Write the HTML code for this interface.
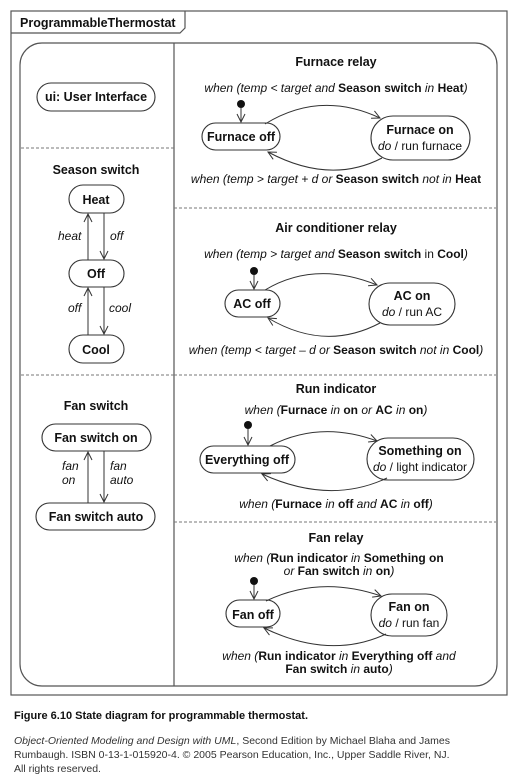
<!DOCTYPE html>
<html><head><meta charset="utf-8"><style>
html,body{margin:0;padding:0;background:#fff;}
svg{display:block;}
text{font-family:"Liberation Sans",Arial,sans-serif;fill:#111;}
.b{font-weight:bold;font-size:12.5px;}
.t{font-size:12px;}
.i{font-style:italic;}
.bo{font-weight:bold;}
</style></head><body>
<svg width="518" height="780" viewBox="0 0 518 780" xmlns="http://www.w3.org/2000/svg">
<defs>
<marker id="a" markerWidth="10" markerHeight="10" refX="9" refY="5" orient="auto" markerUnits="userSpaceOnUse">
<path d="M1,1 L9,5 L1,9" fill="none" stroke="#333" stroke-width="1"/>
</marker>
</defs>
<g fill="none" stroke="#555" stroke-width="1.2">
<rect x="11" y="11" width="496" height="684"/>
<path d="M11,33 H180 L185,28 V11"/>
<rect x="20" y="43" width="477" height="643" rx="22" ry="22"/>
<line x1="174" y1="43" x2="174" y2="686"/>
</g>
<g stroke="#777" stroke-width="1" stroke-dasharray="3,2">
<line x1="21" y1="148" x2="174" y2="148"/>
<line x1="21" y1="375" x2="174" y2="375"/>
<line x1="174" y1="208" x2="496" y2="208"/>
<line x1="174" y1="375" x2="496" y2="375"/>
<line x1="174" y1="522" x2="496" y2="522"/>
</g>
<text x="20" y="27" class="b">ProgrammableThermostat</text>

<g fill="#fff" stroke="#333" stroke-width="1.1">
<rect x="37" y="83" width="118" height="28" rx="14"/>
<rect x="69" y="185" width="55" height="28" rx="14"/>
<rect x="69" y="260" width="55" height="27" rx="13.5"/>
<rect x="69" y="335" width="55" height="28" rx="14"/>
<rect x="42" y="424" width="109" height="27" rx="13.5"/>
<rect x="36" y="503" width="119" height="27" rx="13.5"/>
</g>
<g text-anchor="middle">
<text x="96" y="101" class="b">ui: User Interface</text>
<text x="96" y="174" class="b">Season switch</text>
<text x="96" y="204" class="b">Heat</text>
<text x="96" y="278" class="b">Off</text>
<text x="96" y="354" class="b">Cool</text>
<text x="96" y="410" class="b">Fan switch</text>
<text x="96" y="442" class="b">Fan switch on</text>
<text x="96" y="521" class="b">Fan switch auto</text>
</g>
<g stroke="#333" stroke-width="1" marker-end="url(#a)">
<line x1="88" y1="260" x2="88" y2="214"/>
<line x1="104" y1="213" x2="104" y2="259"/>
<line x1="88" y1="335" x2="88" y2="288"/>
<line x1="104" y1="287" x2="104" y2="334"/>
<line x1="88" y1="503" x2="88" y2="452"/>
<line x1="104" y1="451" x2="104" y2="502"/>
</g>
<g class="t i">
<text x="58" y="240">heat</text>
<text x="110" y="240">off</text>
<text x="68" y="312">off</text>
<text x="109" y="312">cool</text>
<text x="62" y="470">fan</text>
<text x="62" y="484">on</text>
<text x="110" y="470">fan</text>
<text x="110" y="484">auto</text>
</g>

<g fill="#fff" stroke="#333" stroke-width="1.1">
<rect x="202" y="123" width="78" height="27" rx="13.5"/>
<rect x="371" y="116" width="99" height="44" rx="22"/>
<rect x="225" y="290" width="55" height="27" rx="13.5"/>
<rect x="369" y="283" width="86" height="42" rx="21"/>
<rect x="200" y="446" width="95" height="27" rx="13.5"/>
<rect x="367" y="438" width="107" height="42" rx="21"/>
<rect x="226" y="600" width="54" height="27" rx="13.5"/>
<rect x="371" y="594" width="76" height="42" rx="21"/>
</g>
<g fill="#111">
<circle cx="241" cy="104" r="4"/>
<circle cx="254" cy="271" r="4"/>
<circle cx="248" cy="425" r="4"/>
<circle cx="254" cy="581" r="4"/>
</g>
<g fill="none" stroke="#333" stroke-width="1" marker-end="url(#a)">
<line x1="241" y1="108" x2="241" y2="122"/>
<line x1="254" y1="275" x2="254" y2="289"/>
<line x1="248" y1="429" x2="248" y2="445"/>
<line x1="254" y1="585" x2="254" y2="599"/>
<path d="M265,124 Q320,90 380,118"/>
<path d="M382,158 Q330,185 268,152"/>
<path d="M265,290 Q315,260 377,285"/>
<path d="M380,323 Q325,352 268,318"/>
<path d="M270,446 Q320,420 377,441"/>
<path d="M387,478 Q330,505 262,474"/>
<path d="M266,601 Q320,575 381,596"/>
<path d="M386,634 Q330,660 264,628"/>
</g>
<g text-anchor="middle">
<text x="336" y="66" class="b">Furnace relay</text>
<text x="241" y="141" class="b">Furnace off</text>
<text x="420" y="134" class="b">Furnace on</text>
<text x="420" y="150" class="t"><tspan class="i">do</tspan> / run furnace</text>
<text x="336" y="92" class="t"><tspan class="i">when (temp &lt; target and </tspan><tspan class="bo">Season switch</tspan><tspan class="i"> in </tspan><tspan class="bo">Heat</tspan><tspan class="i">)</tspan></text>
<text x="336" y="183" class="t"><tspan class="i">when (temp &gt; target + d or </tspan><tspan class="bo">Season switch</tspan><tspan class="i"> not in </tspan><tspan class="bo">Heat</tspan></text>

<text x="336" y="232" class="b">Air conditioner relay</text>
<text x="252" y="308" class="b">AC off</text>
<text x="412" y="300" class="b">AC on</text>
<text x="412" y="316" class="t"><tspan class="i">do</tspan> / run AC</text>
<text x="336" y="258" class="t"><tspan class="i">when (temp &gt; target and </tspan><tspan class="bo">Season switch</tspan> in <tspan class="bo">Cool</tspan><tspan class="i">)</tspan></text>
<text x="336" y="354" class="t"><tspan class="i">when (temp &lt; target – d or </tspan><tspan class="bo">Season switch</tspan><tspan class="i"> not in </tspan><tspan class="bo">Cool</tspan><tspan class="i">)</tspan></text>

<text x="336" y="393" class="b">Run indicator</text>
<text x="247" y="464" class="b">Everything off</text>
<text x="420" y="455" class="b">Something on</text>
<text x="420" y="471" class="t"><tspan class="i">do</tspan> / light indicator</text>
<text x="336" y="414" class="t"><tspan class="i">when (</tspan><tspan class="bo">Furnace</tspan><tspan class="i"> in </tspan><tspan class="bo">on</tspan><tspan class="i"> or </tspan><tspan class="bo">AC</tspan><tspan class="i"> in </tspan><tspan class="bo">on</tspan><tspan class="i">)</tspan></text>
<text x="336" y="508" class="t"><tspan class="i">when (</tspan><tspan class="bo">Furnace</tspan><tspan class="i"> in </tspan><tspan class="bo">off</tspan><tspan class="i"> and </tspan><tspan class="bo">AC</tspan><tspan class="i"> in </tspan><tspan class="bo">off</tspan><tspan class="i">)</tspan></text>

<text x="336" y="542" class="b">Fan relay</text>
<text x="253" y="619" class="b">Fan off</text>
<text x="409" y="611" class="b">Fan on</text>
<text x="409" y="627" class="t"><tspan class="i">do</tspan> / run fan</text>
<text x="339" y="562" class="t"><tspan class="i">when (</tspan><tspan class="bo">Run indicator</tspan><tspan class="i"> in </tspan><tspan class="bo">Something on</tspan></text>
<text x="339" y="575" class="t"><tspan class="i">or </tspan><tspan class="bo">Fan switch</tspan><tspan class="i"> in </tspan><tspan class="bo">on</tspan><tspan class="i">)</tspan></text>
<text x="339" y="660" class="t"><tspan class="i">when (</tspan><tspan class="bo">Run indicator</tspan><tspan class="i"> in </tspan><tspan class="bo">Everything off</tspan><tspan class="i"> and</tspan></text>
<text x="339" y="673" class="t"><tspan class="bo">Fan switch</tspan><tspan class="i"> in </tspan><tspan class="bo">auto</tspan><tspan class="i">)</tspan></text>
</g>

<text x="14" y="719" style="font-size:11px;font-weight:bold">Figure 6.10  State diagram for programmable thermostat.</text>
<text x="14" y="744" style="font-size:10.5px;fill:#333"><tspan class="i">Object-Oriented Modeling and Design with UML</tspan>, Second Edition by Michael Blaha and James</text>
<text x="14" y="758" style="font-size:10.5px;fill:#333">Rumbaugh. ISBN 0-13-1-015920-4. © 2005 Pearson Education, Inc., Upper Saddle River, NJ.</text>
<text x="14" y="772" style="font-size:10.5px;fill:#333">All rights reserved.</text>
</svg>
</body></html>
